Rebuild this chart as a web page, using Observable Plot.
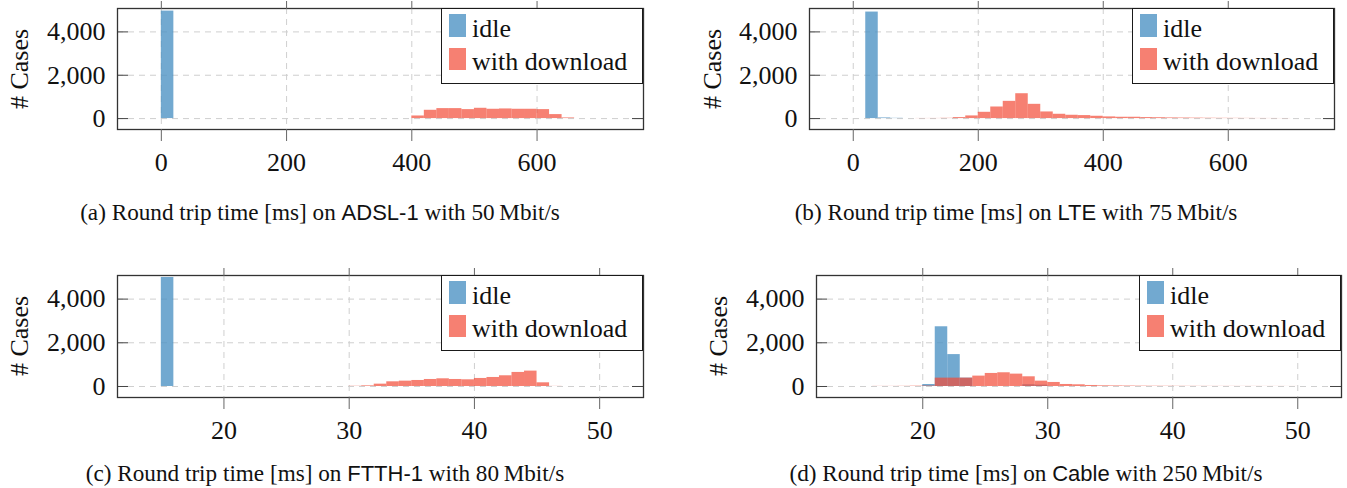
<!DOCTYPE html>
<html><head><meta charset="utf-8">
<script src="https://cdn.jsdelivr.net/npm/d3@7"></script>
<script src="https://cdn.jsdelivr.net/npm/@observablehq/plot@0.6"></script>
<style>
body{margin:0;background:#fff;}
#root{position:relative;width:1347px;height:488px;overflow:hidden;font-family:"Liberation Serif","Times New Roman",serif;color:#111;}
.panel{position:absolute;}
.panel svg{overflow:visible;max-width:none;}
.ylab{position:absolute;font-size:26px;line-height:1;white-space:nowrap;transform:translate(-50%,-50%) rotate(-90deg);}
.legend{position:absolute;box-sizing:border-box;border:1.3px solid #1a1a1a;background:#fff;}
.sw{position:absolute;left:7px;width:17px;}
.lt{position:absolute;left:30px;font-size:26px;line-height:1;white-space:nowrap;}
.cap{position:absolute;font-size:23.2px;line-height:24px;white-space:nowrap;transform:translateX(-50%);}
.sf{font-family:"Liberation Sans",Arial,sans-serif;font-size:22px;}
</style></head>
<body><div id="root"></div>
<script>
// ---------- data (bin left edges in ms, counts) ----------
const seriesNames = ["idle", "with download"];
const yTickValues = [0, 2000, 4000];

// (a) ADSL-1, 20 ms bins
const adslIdleStart = [0];
const adslIdleCount = [4960];
const adslDownStart = [400, 420, 440, 460, 480, 500, 520, 540, 560, 580, 600, 620, 640];
const adslDownCount = [120, 383, 460, 460, 414, 475, 430, 445, 430, 430, 414, 184, 30];

// (b) LTE, 20 ms bins
const lteIdleStart = [20, 40, 60];
const lteIdleCount = [4916, 30, 12];
const lteDownStart = [100, 120, 140, 160, 180, 200, 220, 240, 260, 280, 300, 320, 340, 360, 380, 400, 420, 440, 460, 480, 500, 520, 540, 560, 580, 600, 620, 640, 660, 680];
const lteDownCount = [5, 6, 12, 46, 122, 290, 535, 795, 1147, 658, 306, 199, 153, 138, 107, 77, 61, 61, 46, 40, 30, 25, 20, 15, 12, 10, 8, 6, 5, 4];

// (c) FTTH-1, 1 ms bins
const ftthIdleStart = [15];
const ftthIdleCount = [4990];
const ftthDownStart = [30, 31, 32, 33, 34, 35, 36, 37, 38, 39, 40, 41, 42, 43, 44, 45, 46];
const ftthDownCount = [10, 30, 107, 214, 245, 275, 321, 352, 321, 306, 367, 413, 490, 643, 704, 168, 5];

// (d) Cable, 1 ms bins
const cableIdleStart = [20, 21, 22, 23, 28, 29];
const cableIdleCount = [90, 2733, 1460, 383, 80, 60];
const cableDownStart = [16, 17, 18, 19, 20, 21, 22, 23, 24, 25, 26, 27, 28, 29, 30, 31, 32, 33, 34, 35, 36, 37, 38, 39, 40, 41, 42, 43, 44, 45, 46, 47, 48, 49];
const cableDownCount = [5, 5, 8, 15, 20, 383, 383, 383, 475, 597, 628, 566, 444, 245, 184, 92, 77, 46, 31, 25, 20, 15, 12, 10, 8, 7, 6, 5, 5, 4, 4, 3, 3, 2];

// ---------- layout / style ----------
const blue = "#4f94c4", red = "#f24a36";
const panels = [
  {id:"a", L:117, R:643, T:8,   B:129, xDomain:[-70,770], xTicks:[0,200,400,600], bw:20,
   idle:[adslIdleStart, adslIdleCount], down:[adslDownStart, adslDownCount], ylabX:20,
   cap:["(a) Round trip time [ms] on ", "ADSL-1", " with 50\u2009Mbit/s"], capX:320, capY:220},
  {id:"b", L:809, R:1334, T:8,  B:129, xDomain:[-70,770], xTicks:[0,200,400,600], bw:20,
   idle:[lteIdleStart, lteIdleCount], down:[lteDownStart, lteDownCount], ylabX:713,
   cap:["(b) Round trip time [ms] on ", "LTE", " with 75\u2009Mbit/s"], capX:1016, capY:220},
  {id:"c", L:117, R:643, T:275, B:397, xDomain:[11.5,53.5], xTicks:[20,30,40,50], bw:1,
   idle:[ftthIdleStart, ftthIdleCount], down:[ftthDownStart, ftthDownCount], ylabX:20,
   cap:["(c) Round trip time [ms] on ", "FTTH-1", " with 80\u2009Mbit/s"], capX:325, capY:481},
  {id:"d", L:816, R:1341, T:275, B:397, xDomain:[11.5,53.5], xTicks:[20,30,40,50], bw:1,
   idle:[cableIdleStart, cableIdleCount], down:[cableDownStart, cableDownCount], ylabX:719,
   cap:["(d) Round trip time [ms] on ", "Cable", " with 250\u2009Mbit/s"], capX:1026, capY:481}
];

const root = document.getElementById("root");
const ML = 115, MT = 8, MR = 6, MB = 46;

for (const p of panels) {
  const fw = p.R - p.L, fh = p.B - p.T;
  const rows = (arr) => arr[0].map((s, i) => ({x1: s, x2: s + p.bw, y: arr[1][i]}));
  const chart = Plot.plot({
    width: ML + fw + MR, height: MT + fh + MB,
    marginLeft: ML, marginTop: MT, marginRight: MR, marginBottom: MB,
    style: {fontFamily: "'Liberation Serif','Times New Roman',serif", fontSize: "26px", color: "#111", background: "transparent", overflow: "visible"},
    x: {domain: p.xDomain, label: null},
    y: {domain: [-504, 5080], label: null},
    marks: [
      Plot.ruleX(p.xTicks, {x: d => d, stroke: "#cfcfcf", strokeWidth: 1, strokeDasharray: "6,5"}),
      Plot.ruleY(yTickValues, {y: d => d, stroke: "#cfcfcf", strokeWidth: 1, strokeDasharray: "6,5"}),
      Plot.rectY(rows(p.idle), {x1: "x1", x2: "x2", y: "y", fill: blue, fillOpacity: 0.8}),
      Plot.rectY(rows(p.down), {x1: "x1", x2: "x2", y: "y", fill: red, fillOpacity: 0.7}),
      Plot.tickY(yTickValues, {y: d => d, stroke: "#444", strokeWidth: 1, insetRight: fw - 11}),
      Plot.tickY(yTickValues, {y: d => d, stroke: "#444", strokeWidth: 1, insetLeft: fw - 11}),
      Plot.frame({stroke: "#333", strokeWidth: 1.3}),
      Plot.axisX(p.xTicks, {anchor: "bottom", tickSize: 12, tickPadding: 11, fontSize: 26, stroke: "#666", fill: "#111", label: null}),
      Plot.axisX(p.xTicks, {anchor: "top", tickSize: 8, tickFormat: () => "", stroke: "#666", label: null}),
      Plot.axisY(yTickValues, {anchor: "left", tickSize: 0, tickPadding: 12, fontSize: 26, fill: "#111", tickFormat: d3.format(","), label: null})
    ]
  });
  const wrap = document.createElement("div");
  wrap.className = "panel";
  wrap.style.left = (p.L - ML) + "px";
  wrap.style.top = (p.T - MT) + "px";
  wrap.appendChild(chart);
  root.appendChild(wrap);

  const yl = document.createElement("div");
  yl.className = "ylab";
  yl.textContent = "# Cases";
  yl.style.left = p.ylabX + "px";
  yl.style.top = ((p.T + p.B) / 2) + "px";
  root.appendChild(yl);

  const lg = document.createElement("div");
  lg.className = "legend";
  lg.style.left = (p.R - 202) + "px";
  lg.style.top = p.T + "px";
  lg.style.width = "202px";
  lg.style.height = "76px";
  const entries = [[blue, 0.8, 5, 22.5, seriesNames[0]], [red, 0.7, 38.5, 22, seriesNames[1]]];
  for (const [c, o, top, h, name] of entries) {
    const sw = document.createElement("div");
    sw.className = "sw";
    sw.style.top = top + "px"; sw.style.height = h + "px";
    sw.style.background = c; sw.style.opacity = o;
    lg.appendChild(sw);
    const t = document.createElement("div");
    t.className = "lt";
    t.textContent = name;
    t.style.top = (top + h - 21) + "px";
    lg.appendChild(t);
  }
  root.appendChild(lg);

  const cap = document.createElement("div");
  cap.className = "cap";
  cap.style.left = p.capX + "px";
  cap.style.top = (p.capY - 20) + "px";
  cap.appendChild(document.createTextNode(p.cap[0]));
  const s = document.createElement("span"); s.className = "sf"; s.textContent = p.cap[1];
  cap.appendChild(s);
  cap.appendChild(document.createTextNode(p.cap[2]));
  root.appendChild(cap);
}
</script></body></html>
